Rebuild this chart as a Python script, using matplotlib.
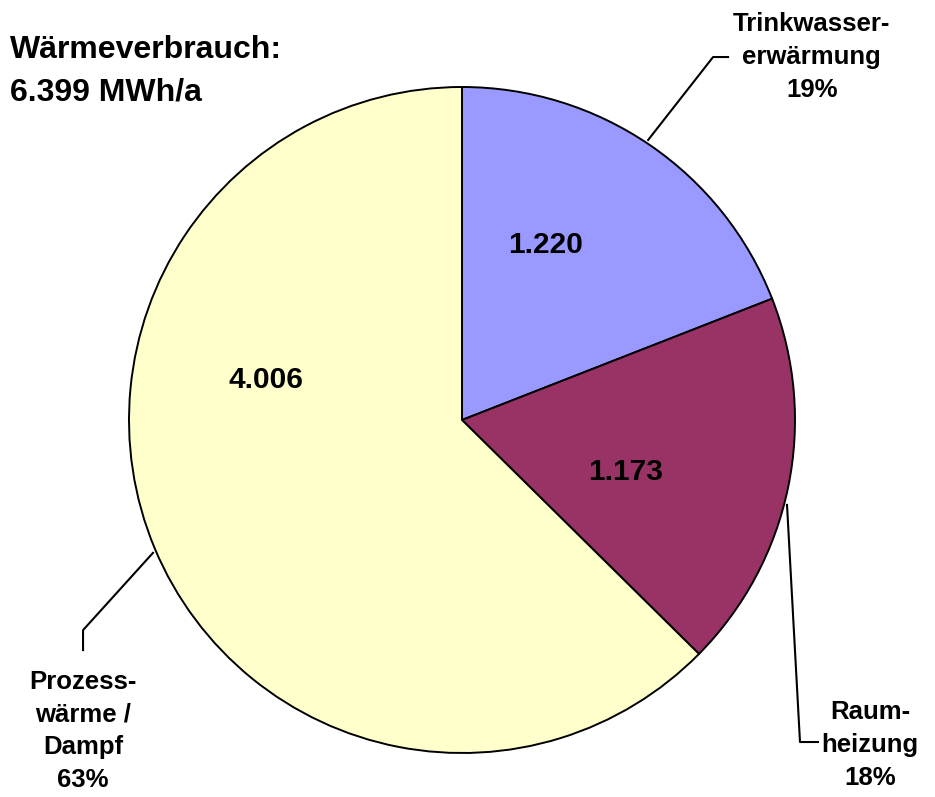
import matplotlib.pyplot as plt

plt.rcParams['font.family'] = ['Liberation Sans', 'DejaVu Sans']

# data
categories = ['Trinkwasser-\nerwärmung', 'Raum-\nheizung', 'Prozess-\nwärme /\nDampf']
values = [1220, 1173, 4006]
value_labels = ['1.220', '1.173', '4.006']
colors = ['#9999FF', '#993366', '#FFFFCC']
total_label = 'Wärmeverbrauch:\n6.399 MWh/a'

total = sum(values)
percents = [round(v / total * 100) for v in values]

fig = plt.figure(figsize=(9.35, 7.97), dpi=100)
ax = fig.add_axes([129 / 935, 44 / 797, 666 / 935, 666 / 797])

ax.pie(values, colors=colors, startangle=90, counterclock=False, radius=1,
       wedgeprops=dict(edgecolor='black', linewidth=1.4))
ax.set_xlim(-1, 1)
ax.set_ylim(-1, 1)
ax.set_aspect('equal')
ax.axis('off')

# value labels inside slices
value_pos = [(0.25, 0.525), (0.49, -0.156), (-0.59, 0.12)]
for (x, y), txt in zip(value_pos, value_labels):
    ax.text(x, y, txt, ha='center', va='center', fontsize=21.5, fontweight='bold')

# category labels with leader lines
leaders = [
    [(0.559, 0.841), (0.754, 1.090), (0.799, 1.090)],
    [(0.976, -0.255), (1.015, -0.967), (1.069, -0.967)],
    [(-0.928, -0.399), (-1.138, -0.631), (-1.138, -0.691)],
]
label_pos = [(1.05, 1.09), (1.225, -0.976), (-1.138, -0.934)]
for pts, (x, y), cat, p in zip(leaders, label_pos, categories, percents):
    xs, ys = zip(*pts)
    ax.plot(xs, ys, color='black', linewidth=1.5, clip_on=False)
    ax.text(x, y, f'{cat}\n{p}%', ha='center', va='center', fontsize=18.5,
            fontweight='bold', linespacing=1.45)

fig.text(10 / 935, 1 - 35 / 797, total_label, ha='left', va='top',
         fontsize=23, fontweight='bold', linespacing=1.55)

plt.savefig('out.png', dpi=100)
plt.close()
